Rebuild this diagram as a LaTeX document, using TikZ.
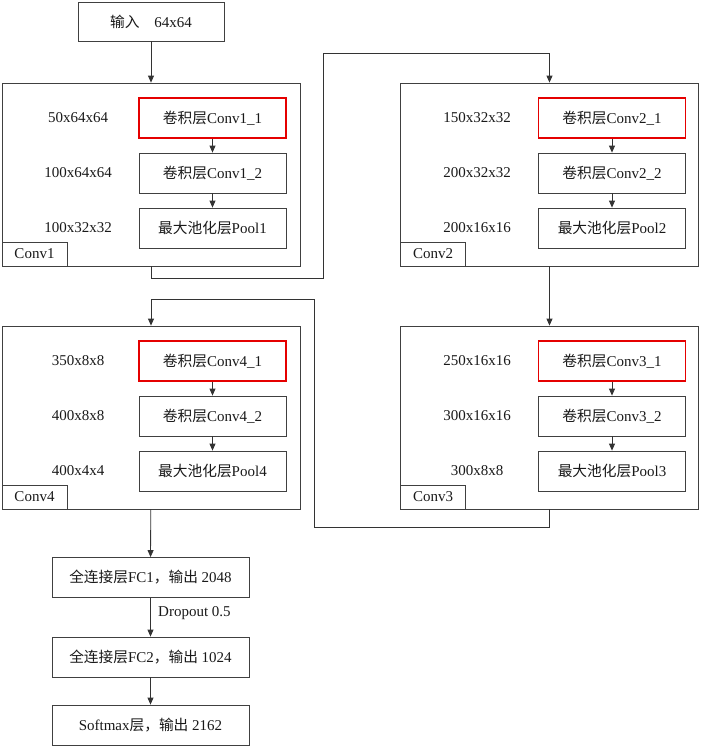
\documentclass[tikz,border=0pt]{standalone}
\usepackage{fontspec}
\setmainfont{Liberation Serif}
\newfontfamily\cjk{Noto Sans CJK SC}[Scale=0.98]
\usetikzlibrary{arrows.meta,positioning}
\newcommand{\zh}[1]{{\cjk #1}}

\begin{document}
\begin{tikzpicture}[x=1pt,y=-1pt,
    every node/.style={font=\fontsize{15}{17}\selectfont,text=black!90},
    box/.style={rectangle,draw=black!75,line width=0.8pt,inner sep=0pt},
    layer/.style={box,minimum width=147pt,minimum height=40pt},
    first/.style={layer,draw=red!90!black,line width=1.3pt},
    block/.style={box,minimum width=298pt,minimum height=183pt},
    tag/.style={box,minimum width=65pt,minimum height=24pt},
    fc/.style={box,minimum width=197pt,minimum height=40pt},
    arr/.style={-{Triangle[length=7pt,width=6pt]},draw=black!80,line width=0.8pt}]
    \useasboundingbox (0,0) rectangle (702,747);

    % Input
    \node[box,minimum width=146pt,minimum height=39pt] (in) at (151,21.5) {\zh{输入}\hspace{1em}64x64};

    % Conv1 block
    \node[block] (conv1) at (151,174.5) {};
    \node[tag,anchor=south west] (t1) at (conv1.south west) {Conv1};
    \node[first] (c11) at (212.5,118) {\zh{卷积层}Conv1\_1};
    \node[layer] (c12) at (212.5,173) {\zh{卷积层}Conv1\_2};
    \node[layer] (p1) at (212.5,228) {\zh{最大池化层}Pool1};
    \node (s11) at (78,118) {50x64x64};
    \node (s12) at (78,173) {100x64x64};
    \node (s13) at (78,228) {100x32x32};

    % Conv2 block
    \node[block] (conv2) at (549.5,174.5) {};
    \node[tag,anchor=south west] (t2) at (conv2.south west) {Conv2};
    \node[first] (c21) at (612,118) {\zh{卷积层}Conv2\_1};
    \node[layer] (c22) at (612,173) {\zh{卷积层}Conv2\_2};
    \node[layer] (p2) at (612,228) {\zh{最大池化层}Pool2};
    \node (s21) at (477,118) {150x32x32};
    \node (s22) at (477,173) {200x32x32};
    \node (s23) at (477,228) {200x16x16};

    % Conv3 block
    \node[block] (conv3) at (549.5,417.5) {};
    \node[tag,anchor=south west] (t3) at (conv3.south west) {Conv3};
    \node[first] (c31) at (612,361) {\zh{卷积层}Conv3\_1};
    \node[layer] (c32) at (612,416) {\zh{卷积层}Conv3\_2};
    \node[layer] (p3) at (612,471) {\zh{最大池化层}Pool3};
    \node (s31) at (477,361) {250x16x16};
    \node (s32) at (477,416) {300x16x16};
    \node (s33) at (477,471) {300x8x8};

    % Conv4 block
    \node[block] (conv4) at (151,417.5) {};
    \node[tag,anchor=south west] (t4) at (conv4.south west) {Conv4};
    \node[first] (c41) at (212.5,361) {\zh{卷积层}Conv4\_1};
    \node[layer] (c42) at (212.5,416) {\zh{卷积层}Conv4\_2};
    \node[layer] (p4) at (212.5,471) {\zh{最大池化层}Pool4};
    \node (s41) at (78,361) {350x8x8};
    \node (s42) at (78,416) {400x8x8};
    \node (s43) at (78,471) {400x4x4};

    % Fully connected part
    \node[fc] (fc1) at (150.5,577.5) {\zh{全连接层}FC1\zh{，输出} 2048};
    \node[fc] (fc2) at (150.5,657) {\zh{全连接层}FC2\zh{，输出} 1024};
    \node[fc] (sm) at (150.5,725) {Softmax\zh{层，输出} 2162};

    % Arrows inside the blocks
    \draw[arr] (c11) -- (c12);
    \draw[arr] (c12) -- (p1);
    \draw[arr] (c21) -- (c22);
    \draw[arr] (c22) -- (p2);
    \draw[arr] (c31) -- (c32);
    \draw[arr] (c32) -- (p3);
    \draw[arr] (c41) -- (c42);
    \draw[arr] (c42) -- (p4);

    % Arrows between the blocks
    \draw[arr] (in) -- (conv1);
    \draw[arr] (conv1.south) -- ++(0,12) -| (323,53) -| (conv2.north);
    \draw[arr] (conv2) -- (conv3);
    \draw[arr] (conv3.south) -- ++(0,18) -| (314,299) -| (conv4.north);
    \draw[arr] (conv4) -- (fc1);
    \draw[arr] (fc1) -- node[right,pos=0.4,xshift=4pt] (dp) {Dropout 0.5} (fc2);
    \draw[arr] (fc2) -- (sm);
\end{tikzpicture}
\end{document}
